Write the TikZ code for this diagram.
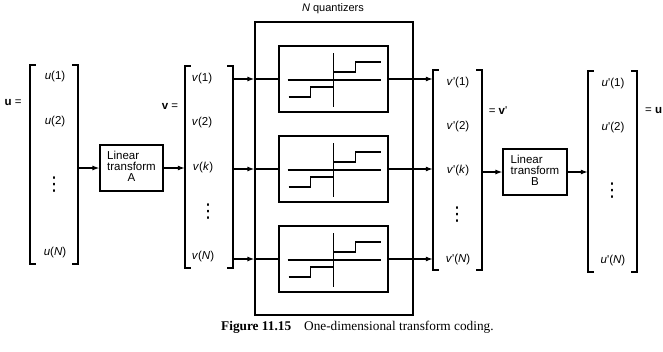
\documentclass[tikz,border=0pt]{standalone}
\usepackage{fontspec}
\setmainfont{Liberation Sans}
\newfontfamily\capfont{Liberation Serif}
\newfontfamily\symfont{DejaVu Sans}
\usetikzlibrary{arrows.meta}
\newcommand\bracketpair[1]{%
  \draw[brk] ([xshift=6pt]#1.north west) -- (#1.north west) -- (#1.south west) -- ([xshift=6pt]#1.south west);
  \draw[brk] ([xshift=-6pt]#1.north east) -- (#1.north east) -- (#1.south east) -- ([xshift=-6pt]#1.south east);}
\begin{document}
\begin{tikzpicture}[x=1pt,y=-1pt,
  lbl/.style={font=\fontsize{11.5}{12}\selectfont, inner sep=0pt},
  box/.style={draw, line width=1.2pt, inner sep=0pt, align=center, font=\fontsize{11.5}{11}\selectfont},
  vec/.style={inner sep=0pt, minimum width=48pt},
  brk/.style={line width=1.5pt},
  arr/.style={line width=1.2pt, -{Latex[length=7pt,width=5pt]}},
  ln/.style={line width=1.2pt},
  stair/.style={line width=1.9pt},
  axis/.style={line width=1.2pt},
  dts/.style={font=\symfont\fontsize{19}{19}\selectfont, inner sep=0pt}]
\useasboundingbox (0,0) rectangle (663,351);

% vectors (brackets)
\node[vec, minimum height=199pt] (ub) at (54,164.5) {};
\node[vec, minimum height=202pt] (vb) at (209,167) {};
\node[vec, minimum height=200pt, minimum width=49pt] (vpb) at (457.5,170) {};
\node[vec, minimum height=201pt, minimum width=49pt] (upb) at (612.5,171.5) {};
\bracketpair{ub}
\bracketpair{vb}
\bracketpair{vpb}
\bracketpair{upb}

% u entries
\node[lbl] (u1) at (55,77) {\textit{u}(1)};
\node[lbl] (u2) at (55,122) {\textit{u}(2)};
\node[dts] (ud) at (54,185) {⋮};
\node[lbl] (uN) at (55,253) {\textit{u}(\textit{N})};
\node[lbl] (ueq) at (13,103) {\textbf{u} =};

% v entries
\node[lbl] (v1) at (202,79) {\textit{v}(1)};
\node[lbl] (v2) at (202,123) {\textit{v}(2)};
\node[lbl] (vk) at (203,168) {\textit{v}(\textit{k})};
\node[dts] (vd) at (208,212) {⋮};
\node[lbl] (vN) at (203,257) {\textit{v}(\textit{N})};
\node[lbl] (veq) at (170,106) {\textbf{v} =};

% v' entries
\node[lbl] (vp1) at (458,83) {\textit{v}\textquotesingle(1)};
\node[lbl] (vp2) at (458,127) {\textit{v}\textquotesingle(2)};
\node[lbl] (vpk) at (458,171) {\textit{v}\textquotesingle(\textit{k})};
\node[dts] (vpd) at (457,215) {⋮};
\node[lbl] (vpN) at (458,260) {\textit{v}\textquotesingle(\textit{N})};
\node[lbl] (vpeq) at (498,111) {= \textbf{v}\textquotesingle};

% u' entries
\node[lbl] (up1) at (613,84) {\textit{u}\textquotesingle(1)};
\node[lbl] (up2) at (613,128) {\textit{u}\textquotesingle(2)};
\node[dts] (upd) at (612,191) {⋮};
\node[lbl] (upN) at (613,261) {\textit{u}\textquotesingle(\textit{N})};
\node[lbl, anchor=west] (upeq) at (645,111) {= \textbf{u}};

% transforms
\node[box, minimum width=63pt, minimum height=46pt] (A) at (131.5,168)
  {\begin{tabular}{@{}l@{}}Linear\\transform\\\multicolumn{1}{@{}c@{}}{A}\end{tabular}};
\node[box, minimum width=64pt, minimum height=46pt] (B) at (535,172)
  {\begin{tabular}{@{}l@{}}Linear\\transform\\\multicolumn{1}{@{}c@{}}{B}\end{tabular}};

% quantizers
\node[draw, line width=1.2pt, minimum width=158pt, minimum height=293pt, inner sep=0pt] (Q) at (334,168.5) {};
\node[lbl, font=\fontsize{11}{12}\selectfont] (Nq) at (333,9) {\textit{N} quantizers};
\node[box, minimum width=109pt, minimum height=66pt] (q1) at (333.5,79) {};
\node[box, minimum width=109pt, minimum height=66pt] (q2) at (333.5,169) {};
\node[box, minimum width=109pt, minimum height=66pt] (q3) at (333.5,259) {};
\foreach \q in {q1,q2,q3}{
  \begin{scope}[shift={(\q.center)}]
    \draw[axis] (-46,1) -- (47,1);
    \draw[axis] (0,-26) -- (0,28);
    \draw[stair] (-45,18) -- (-23,18) -- (-23,8) -- (0,8) -- (0,-7) -- (22,-7) -- (22,-17) -- (47,-17);
  \end{scope}
  \draw[arr] (vb.east |- \q.west) -- (Q.west |- \q.west);
  \draw[ln] (Q.west |- \q.west) -- (\q.west);
  \draw[arr] (\q.east) -- (\q.east -| vpb.west);
}

% connectors
\draw[arr] (ub.east |- A.west) -- (A.west);
\draw[arr] (A.east) -- (A.east -| vb.west);
\draw[arr] (vpb.east |- B.west) -- (B.west);
\draw[arr] (B.east) -- (B.east -| upb.west);

% caption
\node[anchor=west, inner sep=0pt, font=\capfont\fontsize{13.3}{14}\selectfont] (cap) at (221,327)
  {\textbf{Figure 11.15}\hspace{13pt}One-dimensional transform coding.};
\end{tikzpicture}
\end{document}
